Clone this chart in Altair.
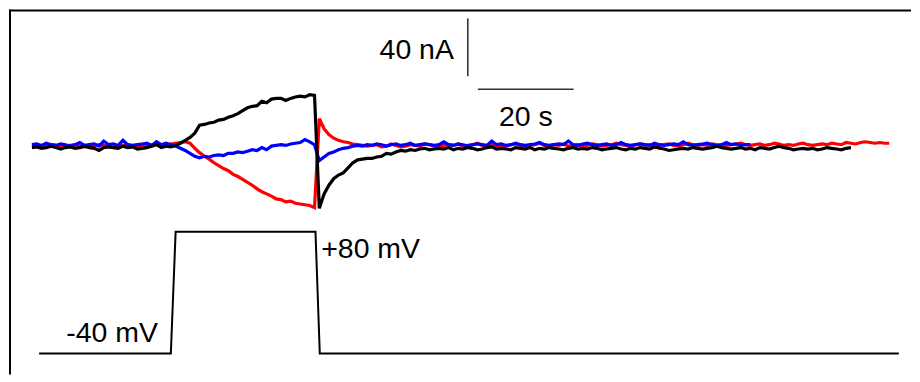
import altair as alt
import pandas as pd

# ---- data (one sample per second, current in nA) ----
red_nA = [0, 0.5, -0.5, 0, 1, 0.5, -0.5, 0, 0.5, 1, 0, -0.5, 0.5, 0, 1, 0.5, 0, -1, 0, 0.5,
          1, 0, 0.5, -0.5, 0, 1, 1.5, 0.5, 1, 1.5,
          2, 2.5, 3, 2, -1.5, -4.5, -7, -9, -11.5, -13.5, -15.5, -17, -19.5, -21, -23, -25, -27,
          -29.5, -31.5, -33, -34.5, -36.5, -37, -38.5, -38, -39.5, -40, -40.5, -41, -42.5,
          19, 12, 8, 5.5, 4, 3, 2.5, 1.5, 1, 0.5, 0, 0.5, 1, -0.5, 0, 1.5, 0.5, -0.5, 0, 1,
          0.5, 0, 1.5, 1, 0, -0.5, 0.5, 1, 0.5, 1.5, 0, 0.5, 1, 2, 0.5, 0, 1, 0.5, -0.5, 0,
          1, 1.5, 0.5, 0, 0.5, 1, 2, 0.5, 0, 1, 0.5, 1.5, 0, 0.5, 1, 0, 0.5, 1.5, 1, 0,
          0.5, 1, 2, 1, 0.5, 0, 1, 1.5, 0.5, 1, 0, 0.5, 1, 1.5, 0.5, 0, 1, 2, 1, 0.5,
          1, 0.5, 1.5, 1, 0, 0.5, 1, 1.5, 2, 1, 0.5, 1, 1.5, 0.5, 1, 2, 1.5, 0.5, 1, 0.5,
          1.5, 2, 1, 0.5, 1, 1.5, 1, 2, 1.5, 1, 2.5, 2, 1.5, 2.5, 3, 2.5, 2, 2.5, 2, 2]

black_nA = [-1, -0.5, -1.5, -1, 0, -1, -2, -1, -0.5, -1.5, -1, 0, -1, -1.5, -3, -1, -0.5, -1, -1.5, 0,
            -1, -0.5, -2, -1.5, -1, 0, 1, -1, 0, -0.5,
            0.5, 2, 4, 6, 9, 14.5, 15, 16, 16.5, 18, 18.5, 20, 21, 22.5, 24.5, 26.5, 27.5, 28, 31, 30,
            32.5, 33, 33, 31.5, 33, 34, 34.5, 34, 35.5, 35,
            -43, -33, -27, -22.5, -20, -18.5, -15, -11.5, -9.5, -9, -8.5, -8.5, -7.5, -7, -5, -5.5,
            -4, -3, -3.5, -2.5, -3, -2, -1.5, -2.5, -2, -1.5, -2, -1, -2.5, -1.5, -2, -1, -1.5,
            -2.5, -2, -1, -0.5, -2, -1.5, -2, -2.5, -1, -1.5, -2, -1, -2.5, -1.5, -2, -1, -1.5,
            -2, -2.5, -1.5, -1, -2, -1.5, -2, -1, -1.5, -2.5, -2, -1.5, -1, -2, -2.5, -1.5, -2,
            -1, -1.5, -2, -0.5, -1.5, -2, -3, -2.5, -2, -1.5, -2, -1, -1.5, -2, -1.5, -1, 0, -1,
            -1.5, -2, -1.5, -1, -2, -1.5, -2.5, -1, -1.5, -2, -1, 0, -1, -1.5, -2.5, -2, -1.5,
            -2, -1.5, -2.5, -2, -1, -1.5, -2, -2.5, -1.5, -1]

blue_nA = [1, 1.5, 0.5, 2, 1, 0.5, 1.5, 1, 0, 1, 2.5, 0.5, 1, 1.5, 0, 3.5, 1, 1.5, 0.5, 4,
           1, 0.5, 1, 1.5, 2, 0.5, 3, 1, 2, 1,
           0, -1.5, -3, -5, -7, -8, -7, -7.5, -6.5, -6, -6.5, -5, -5, -4, -4.5, -3.5, -2.5, -3, -1,
           -2.5, 0, 0.5, 1, 0.5, 1.5, 2, 2.5, 4.5, 3, 1,
           -10, -7.5, -5, -4, -2.5, -1.5, -1, 0, 0.5, 0, 1, 0.5, 1.5, 1, 0, 1, 1.5, 0.5, 1, 2,
           0.5, 1, 1.5, 1, 0.5, 1, 3, 1, 0.5, 1.5, 1, 0, 1, 1.5, 1, 0.5, 3.5, 1, 1.5, 0.5,
           1, 2, 1, 0.5, 1, 1.5, 2.5, 1, 0.5, 1, 1.5, 1, 3.5, 1, 0.5, 1.5, 2, 1, 0.5, 1,
           1.5, 0.5, 1, 2.5, 1, 0.5, 1, 1.5, 1, 0.5, 2, 1, 0.5, 1, 1.5, 1, 3, 1, 0.5, 1,
           1.5, 2, 1, 0.5, 1, 2.5, 1, 1.5, 0.5, 1, 1]

# voltage protocol (s, mV)
step_t = [1.5, 29, 30, 59.2, 60.1, 181]
step_mV = [-40, -40, 80, 80, -40, -40]

# scale bars & labels
bar_v = {"t": 91.0, "I": 88.3, "I2": 48.3}       # 40 nA
bar_h = {"t": 93.1, "t2": 113.1, "I": 39.3}      # 20 s
i_labels = [{"t": 88.1, "I": 60.0, "txt": "40 nA", "al": "right"},
            {"t": 103.1, "I": 13.8, "txt": "20 s", "al": "center"}]
v_labels = [{"t": 26.3, "V": -28.2, "txt": "-40 mV", "al": "right"},
            {"t": 60.4, "V": 54.4, "txt": "+80 mV", "al": "left"}]

T_DOMAIN = [-4.79, 183.54]
I_DOMAIN = [-157.9, 94.5]
V_DOMAIN = [-60.7, 299.3]
W, H = 904, 366
FONT = "Liberation Sans"
FS = 28.5

xs = alt.X("t:Q", scale=alt.Scale(domain=T_DOMAIN, nice=False, zero=False), axis=None)
yI = alt.Y("I:Q", scale=alt.Scale(domain=I_DOMAIN, nice=False, zero=False), axis=None)
yV = alt.Y("V:Q", scale=alt.Scale(domain=V_DOMAIN, nice=False, zero=False), axis=None)


def trace(vals, color):
    df = pd.DataFrame({"t": list(range(len(vals))), "I": vals})
    return alt.Chart(df).mark_line(color=color, strokeWidth=3.2).encode(x=xs, y=yI)


red = trace(red_nA, "#ff0000")
blue = trace(blue_nA, "#0000ff")
black = trace(black_nA, "#000000")

step = alt.Chart(pd.DataFrame({"t": step_t, "V": step_mV})).mark_line(
    color="#000000", strokeWidth=2).encode(x=xs, y=yV)

vbar = alt.Chart(pd.DataFrame([bar_v])).mark_rule(color="#333333", strokeWidth=1.6).encode(
    x=xs, y=yI, y2="I2:Q")
hbar = alt.Chart(pd.DataFrame([bar_h])).mark_rule(color="#333333", strokeWidth=1.6).encode(
    x=xs, x2="t2:Q", y=yI)

ilab = [alt.Chart(pd.DataFrame([d])).mark_text(
    align=d["al"], baseline="alphabetic", font=FONT, fontSize=FS, color="#000000").encode(
    x=xs, y=yI, text="txt:N") for d in i_labels]
vlab = [alt.Chart(pd.DataFrame([d])).mark_text(
    align=d["al"], baseline="alphabetic", font=FONT, fontSize=FS, color="#000000").encode(
    x=xs, y=yV, text="txt:N") for d in v_labels]

one = pd.DataFrame({"k": [0]})
frame_top = alt.Chart(one).mark_rule(color="#000000", strokeWidth=2).encode(
    x=alt.value(0), x2=alt.value(W), y=alt.value(1))
frame_left = alt.Chart(one).mark_rule(color="#000000", strokeWidth=2).encode(
    x=alt.value(1), y=alt.value(0), y2=alt.value(H))

chart = alt.layer(
    frame_top, frame_left, step, vbar, hbar, *ilab, *vlab, red, blue, black
).resolve_scale(y="independent").properties(
    width=W, height=H, padding=0, background="white"
).configure_view(stroke=None)

chart.save("out.html", embed_options={"renderer": "svg", "actions": False})
